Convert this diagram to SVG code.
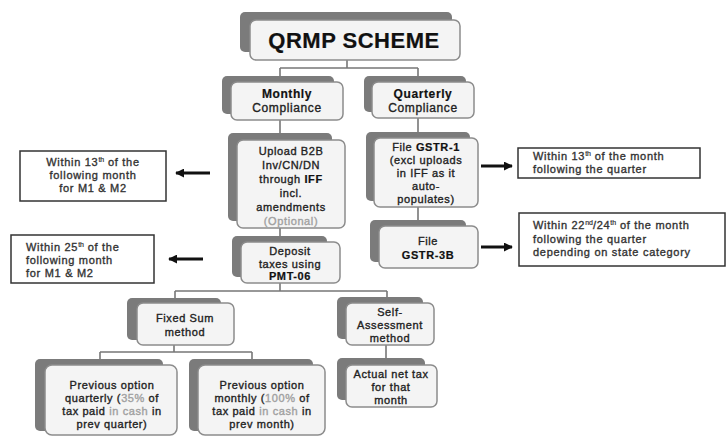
<svg xmlns="http://www.w3.org/2000/svg" width="726" height="437" viewBox="0 0 726 437">
<defs>
<marker id="ah" viewBox="0 0 10 10" refX="9" refY="5" markerWidth="3" markerHeight="3" orient="auto"><path d="M0,0 L10,5 L0,10 z" fill="#111"/></marker>
<style>
.sh{fill:#7b7b7b}
.bx{fill:#f4f4f4;stroke:#8c8c8c;stroke-width:1.5}
.t{font-family:"Liberation Sans",Arial,sans-serif;font-size:11px;letter-spacing:0.6px;fill:#222;stroke:#222;stroke-width:0.35;text-anchor:middle}
.b{font-weight:bold;fill:#111;stroke:#111;stroke-width:0.2}
.g{fill:#a0a0a0;stroke:#a0a0a0}
.nb{fill:#fff;stroke:#333;stroke-width:1.5}
.nt{font-family:"Liberation Sans",Arial,sans-serif;font-size:11px;letter-spacing:0.7px;fill:#333;stroke:#333;stroke-width:0.35}
.c{fill:none;stroke:#777;stroke-width:1.6}
.ar{stroke:#111;stroke-width:3;fill:none;marker-end:url(#ah)}
.sup{font-size:7px;stroke-width:0.2;letter-spacing:0}
</style>
</defs>
<rect width="726" height="437" fill="#fff"/>
<g id="connectors">
<path class="c" d="M347,60 V68 M280,68 H418 M280,68 V77 M418,68 V77"/>
<path class="c" d="M280,120 V135 M418,118 V133"/>
<path class="c" d="M280,228 V238 M418,207 V222"/>
<path class="c" d="M280,283 V291 M175,291 H387 M175,291 V298 M387,291 V298"/>
<path class="c" d="M386,345 V360"/>
<path class="c" d="M174,345 V352 M100,352 H252 M100,352 V360 M252,352 V360"/>
<path class="ar" d="M210,173 H176"/>
<path class="ar" d="M203,259 H169"/>
<path class="ar" d="M481,166 H512"/>
<path class="ar" d="M481,247 H512"/>
</g>
<g id="qrmp">
<rect class="sh" x="240" y="12" width="212" height="40" rx="5"/>
<rect class="bx" x="250" y="20" width="210" height="40" rx="6"/>
<text class="t b" x="354" y="48" style="font-size:22px;letter-spacing:0.5px">QRMP SCHEME</text>
</g>
<g id="monthly">
<rect class="sh" x="222" y="76" width="112" height="38" rx="5"/>
<rect class="bx" x="231" y="82" width="112" height="38" rx="6"/>
<text class="t b" x="287" y="98" style="font-size:12px">Monthly</text>
<text class="t" x="287" y="112" style="font-size:12px">Compliance</text>
</g>
<g id="quarterly">
<rect class="sh" x="364" y="76" width="102" height="36" rx="5"/>
<rect class="bx" x="372" y="82" width="102" height="36" rx="6"/>
<text class="t b" x="423" y="98" style="font-size:12px">Quarterly</text>
<text class="t" x="423" y="112" style="font-size:12px">Compliance</text>
</g>
<g id="upload">
<rect class="sh" x="228" y="133" width="104" height="88" rx="5"/>
<rect class="bx" x="237" y="140" width="108" height="88" rx="6"/>
<text class="t" x="291" y="155">Upload B2B</text>
<text class="t" x="291" y="169">Inv/CN/DN</text>
<text class="t" x="291" y="183">through <tspan class="b">IFF</tspan></text>
<text class="t" x="291" y="197">incl.</text>
<text class="t" x="291" y="211">amendments</text>
<text class="t g" x="291" y="225">(Optional)</text>
</g>
<g id="gstr1">
<rect class="sh" x="366" y="132" width="104" height="69" rx="5"/>
<rect class="bx" x="374" y="138" width="104" height="69" rx="6"/>
<text class="t" x="426" y="151">File <tspan class="b">GSTR-1</tspan></text>
<text class="t" x="426" y="164">(excl uploads</text>
<text class="t" x="426" y="177">in IFF as it</text>
<text class="t" x="426" y="190">auto-</text>
<text class="t" x="426" y="203">populates)</text>
</g>
<g id="gstr3b">
<rect class="sh" x="370" y="220" width="96" height="42" rx="5"/>
<rect class="bx" x="379" y="226" width="99" height="42" rx="6"/>
<text class="t" x="428" y="245">File</text>
<text class="t b" x="428" y="259">GSTR-3B</text>
</g>
<g id="deposit">
<rect class="sh" x="232" y="236" width="95" height="41" rx="5"/>
<rect class="bx" x="241" y="242" width="99" height="41" rx="6"/>
<text class="t" x="290" y="255">Deposit</text>
<text class="t" x="290" y="268">taxes using</text>
<text class="t b" x="290" y="280">PMT-06</text>
</g>
<g id="fixed">
<rect class="sh" x="127" y="298" width="94" height="42" rx="5"/>
<rect class="bx" x="137" y="303" width="97" height="42" rx="6"/>
<text class="t" x="185" y="322">Fixed Sum</text>
<text class="t" x="185" y="336">method</text>
</g>
<g id="self">
<rect class="sh" x="337" y="297" width="86" height="42" rx="5"/>
<rect class="bx" x="346" y="303" width="88" height="42" rx="6"/>
<text class="t" x="390" y="316">Self-</text>
<text class="t" x="390" y="329">Assessment</text>
<text class="t" x="390" y="342">method</text>
</g>
<g id="actual">
<rect class="sh" x="337" y="358" width="88" height="42" rx="5"/>
<rect class="bx" x="346" y="365" width="91" height="42" rx="6"/>
<text class="t" x="391" y="378">Actual net tax</text>
<text class="t" x="391" y="391">for that</text>
<text class="t" x="391" y="404">month</text>
</g>
<g id="prevq">
<rect class="sh" x="35" y="359" width="128" height="72" rx="5"/>
<rect class="bx" x="45" y="365" width="132" height="70" rx="7"/>
<text class="t" x="112" y="389">Previous option</text>
<text class="t" x="112" y="402">quarterly (<tspan class="g">35%</tspan> of</text>
<text class="t" x="112" y="415">tax paid <tspan class="g">in cash</tspan> in</text>
<text class="t" x="112" y="428">prev quarter)</text>
</g>
<g id="prevm">
<rect class="sh" x="189" y="359" width="124" height="72" rx="5"/>
<rect class="bx" x="198" y="365" width="127" height="70" rx="7"/>
<text class="t" x="262" y="389">Previous option</text>
<text class="t" x="262" y="402">monthly (<tspan class="g">100%</tspan> of</text>
<text class="t" x="262" y="415">tax paid <tspan class="g">in cash</tspan> in</text>
<text class="t" x="262" y="428">prev month)</text>
</g>
<g id="note-l1">
<rect class="nb" x="20" y="151" width="146" height="50"/>
<text class="nt" x="93" y="166" text-anchor="middle">Within 13<tspan class="sup" dy="-4">th</tspan><tspan dy="4"> of the</tspan></text>
<text class="nt" x="93" y="179" text-anchor="middle">following month</text>
<text class="nt" x="93" y="192" text-anchor="middle">for M1 &amp; M2</text>
</g>
<g id="note-l2">
<rect class="nb" x="11" y="235" width="143" height="48"/>
<text class="nt" x="26" y="251">Within 25<tspan class="sup" dy="-4">th</tspan><tspan dy="4"> of the</tspan></text>
<text class="nt" x="26" y="264">following month</text>
<text class="nt" x="26" y="277">for M1 &amp; M2</text>
</g>
<g id="note-r1">
<rect class="nb" x="518" y="148" width="182" height="30"/>
<text class="nt" x="533" y="160">Within 13<tspan class="sup" dy="-4">th</tspan><tspan dy="4"> of the month</tspan></text>
<text class="nt" x="533" y="173">following the quarter</text>
</g>
<g id="note-r2">
<rect class="nb" x="519" y="213" width="206" height="53"/>
<text class="nt" x="533" y="229">Within 22<tspan class="sup" dy="-4">nd</tspan><tspan dy="4">/24</tspan><tspan class="sup" dy="-4">th</tspan><tspan dy="4"> of the month</tspan></text>
<text class="nt" x="533" y="243">following the quarter</text>
<text class="nt" x="533" y="256">depending on state category</text>
</g>
</svg>
